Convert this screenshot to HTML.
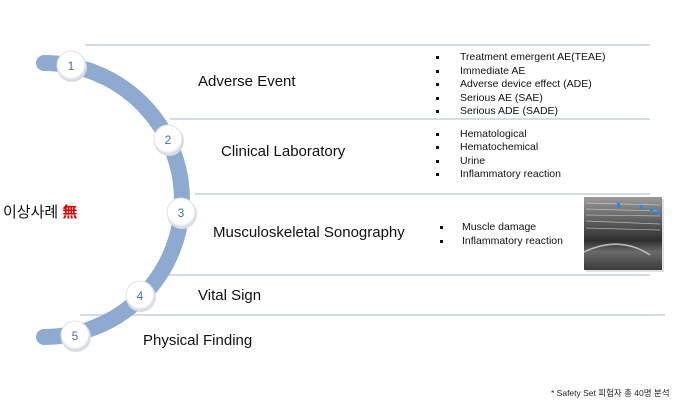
<!DOCTYPE html>
<html><head><meta charset="utf-8"><style>
html,body{margin:0;padding:0;background:#fff;width:684px;height:414px;overflow:hidden}
svg{display:block}
text{font-family:"Liberation Sans","Noto Sans CJK KR",sans-serif}
</style></head><body>
<svg width="684" height="414" viewBox="0 0 684 414" xmlns="http://www.w3.org/2000/svg">
<defs>
<radialGradient id="cg" cx="50%" cy="45%" r="60%"><stop offset="0" stop-color="#fff"/><stop offset="0.75" stop-color="#fff"/><stop offset="1" stop-color="#e4e8ee"/></radialGradient>
<linearGradient id="us" x1="0" y1="0" x2="0" y2="1"><stop offset="0" stop-color="#9a9a9a"/><stop offset="0.35" stop-color="#5a5a5a"/><stop offset="0.6" stop-color="#2e2e2e"/><stop offset="0.75" stop-color="#6a6a6a"/><stop offset="1" stop-color="#3a3a3a"/></linearGradient>
</defs>
<g stroke="#a8b8cc" stroke-width="1">
<line x1="85" y1="45" x2="650" y2="45"/>
<line x1="170" y1="119" x2="650" y2="119"/>
<line x1="195" y1="194" x2="650" y2="194"/>
<line x1="150" y1="275" x2="650" y2="275"/>
<line x1="80" y1="315" x2="665" y2="315"/>
</g>
<path d="M44 63 A138 137 0 0 1 44 337" fill="none" stroke="#8eaad0" stroke-width="16" stroke-linecap="round"/>
<g font-size="12" fill="#4a6ea8" text-anchor="middle">
<g><circle cx="72" cy="67" r="15" fill="#d8dde5"/><circle cx="71" cy="65" r="14" fill="url(#cg)" stroke="#e0e4ea"/><text x="71" y="70">1</text></g>
<g><circle cx="169" cy="141" r="15" fill="#d8dde5"/><circle cx="168" cy="139" r="14" fill="url(#cg)" stroke="#e0e4ea"/><text x="168" y="144">2</text></g>
<g><circle cx="182" cy="214" r="15" fill="#d8dde5"/><circle cx="181" cy="212" r="14" fill="url(#cg)" stroke="#e0e4ea"/><text x="181" y="217">3</text></g>
<g><circle cx="141" cy="297" r="15" fill="#d8dde5"/><circle cx="140" cy="295" r="14" fill="url(#cg)" stroke="#e0e4ea"/><text x="140" y="300">4</text></g>
<g><circle cx="76" cy="337" r="15" fill="#d8dde5"/><circle cx="75" cy="335" r="14" fill="url(#cg)" stroke="#e0e4ea"/><text x="75" y="340">5</text></g>
</g>
<text x="3" y="217" font-size="15" fill="#111">이상사례 <tspan fill="#e00000" font-weight="bold">無</tspan></text>
<g font-size="15" fill="#111">
<text x="198" y="86">Adverse Event</text>
<text x="221" y="156">Clinical Laboratory</text>
<text x="213" y="237">Musculoskeletal Sonography</text>
<text x="198" y="300">Vital Sign</text>
<text x="143" y="345">Physical Finding</text>
</g>
<g font-size="10.5" fill="#111">
<text x="460" y="60">Treatment emergent AE(TEAE)</text>
<text x="460" y="74">Immediate AE</text>
<text x="460" y="87">Adverse device effect (ADE)</text>
<text x="460" y="101">Serious AE (SAE)</text>
<text x="460" y="114">Serious ADE (SADE)</text>
<text x="460" y="137">Hematological</text>
<text x="460" y="150">Hematochemical</text>
<text x="460" y="164">Urine</text>
<text x="460" y="177">Inflammatory reaction</text>
<text x="462" y="230">Muscle damage</text>
<text x="462" y="244">Inflammatory reaction</text>
</g>
<g fill="#111">
<rect x="436" y="56" width="3" height="3"/><rect x="436" y="70" width="3" height="3"/><rect x="436" y="83" width="3" height="3"/><rect x="436" y="97" width="3" height="3"/><rect x="436" y="110" width="3" height="3"/>
<rect x="436" y="133" width="3" height="3"/><rect x="436" y="146" width="3" height="3"/><rect x="436" y="160" width="3" height="3"/><rect x="436" y="173" width="3" height="3"/>
<rect x="440" y="226" width="3" height="3"/><rect x="440" y="240" width="3" height="3"/>
</g>
<rect x="586" y="199" width="78" height="73" fill="#ccc" opacity="0.6"/>
<rect x="584" y="197" width="78" height="73" fill="url(#us)"/>
<g stroke="#ddd" stroke-width="0.7" opacity="0.7">
<line x1="586" y1="203" x2="660" y2="205"/><line x1="586" y1="209" x2="660" y2="211"/><line x1="586" y1="215" x2="660" y2="216"/><line x1="586" y1="221" x2="660" y2="224"/><line x1="586" y1="228" x2="660" y2="230"/>
</g>
<path d="M584 252 Q620 235 650 255" stroke="#bbb" stroke-width="1.5" fill="none"/>
<g fill="#2a8ae0"><rect x="617" y="203" width="3" height="5"/><rect x="640" y="205" width="3" height="5"/><rect x="650" y="208" width="3" height="5"/><rect x="657" y="210" width="3" height="5"/></g>
<text x="551" y="396" font-size="8.5" fill="#222">* Safety Set 피험자 총 40명 분석</text>
</svg>
</body></html>
